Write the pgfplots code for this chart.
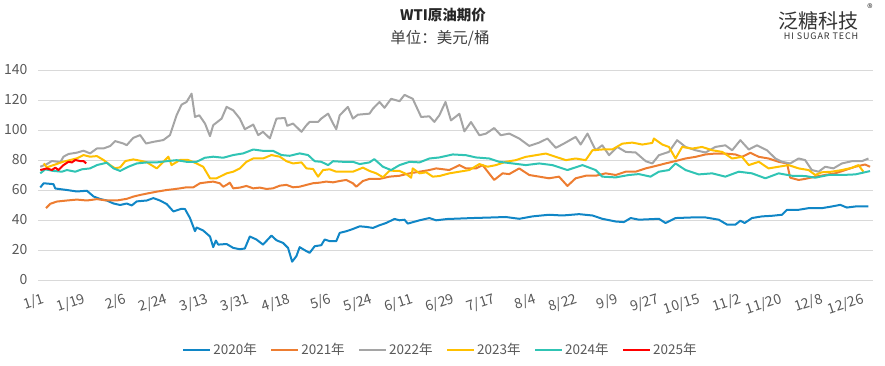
\documentclass[border=0pt]{standalone}
\usepackage{fontspec}
\setmainfont{Noto Sans CJK SC}
\usepackage{pgfplots}
\pgfplotsset{compat=1.18}
\definecolor{cA}{RGB}{16,134,198}
\definecolor{cB}{RGB}{237,125,49}
\definecolor{cC}{RGB}{165,165,165}
\definecolor{cD}{RGB}{255,192,0}
\definecolor{cE}{RGB}{48,196,180}
\definecolor{cF}{RGB}{255,0,0}
\definecolor{gridc}{RGB}{217,217,217}
\definecolor{labc}{RGB}{89,89,89}
\begin{document}
\begin{tikzpicture}[x=1pt,y=1pt]
\path[use as bounding box] (0,0) rectangle (885,366);
\node[font=\fontsize{14.5}{14.5}\selectfont\bfseries, text=black!85] at (443,351) {WTI原油期价};
\node[font=\fontsize{15.5}{15.5}\selectfont, text=black!75] at (440,328) {单位：美元/桶};
\node[font=\fontsize{20}{20}\selectfont, text=black!80] at (818,345) {泛糖科技};
\node[font=\fontsize{9}{9}\selectfont\addfontfeature{LetterSpace=10}, text=black!80] at (821,330) {HI SUGAR TECH};
\node[font=\fontsize{11}{11}\selectfont, text=black!80] at (870,358) {®};
\begin{axis}[at={(38pt,86pt)}, anchor=south west, scale only axis,
  width=835pt, height=210pt,
  xmin=-1, xmax=366, ymin=0, ymax=140,
  ytick={0,20,...,140},
  xtick={0,18,...,360},
  xticklabels={1/1,1/19,2/6,2/24,3/13,3/31,4/18,5/6,5/24,6/11,6/29,7/17,8/4,8/22,9/9,9/27,10/15,11/2,11/20,12/8,12/26},
  axis line style={draw=none}, tick style={draw=none}, major tick length=0pt,
  ymajorgrids, grid style={color=gridc, line width=0.9pt},
  tick label style={font=\fontsize{14}{14}\selectfont, text=labc},
  /pgf/number format/assume math mode=true,
  yticklabel style={xshift=-7pt},
  xticklabel style={rotate=18, anchor=north east, yshift=-11pt, xshift=-1pt, inner sep=1pt},
  every axis plot/.append style={line width=2pt, line join=round, no markers},
  legend style={at={(0.482,-0.333)}, anchor=center, legend columns=6, draw=none, fill=none,
    font=\fontsize{13.5}{13.5}\selectfont, text=labc,
    /tikz/every even column/.append style={column sep=11.5pt}},
  legend image code/.code={\draw[#1,line width=2pt] (0pt,0pt) -- (27pt,0pt);},
]
\addplot[cA] coordinates {(0,61.7)(1.5,64.5)(5.8,63.9)(6.6,61)(11.7,60)(16.1,59)(20.5,59.5)(23.4,55.7)(26.3,54)(29.2,53)(32.2,51)(35.1,50)(38,51)(40.2,49.7)(42.4,52.4)(46.8,53)(49.7,54.6)(52.6,53)(55.6,50.6)(58.5,45.7)(62.1,47.5)(63.6,47.3)(65.8,41.3)(68,32.5)(68.7,35)(71.6,33)(74.6,29)(76,21.9)(77.2,26.3)(78.2,23.6)(81.9,24)(84.8,21.4)(87.7,20.5)(89.9,21)(92.1,29)(95,27)(97.9,23.6)(101.6,29.6)(103.8,26.5)(106.7,24.7)(108.9,21.4)(110.7,12.2)(112.6,16)(114,21.9)(117,19.2)(118.4,18.1)(120.6,22.5)(123.5,23.2)(125,27)(127.2,25.9)(130.1,25.9)(131.6,31.4)(134.5,32.5)(137.4,34)(140.4,35.8)(143.3,35.4)(146.2,34.7)(149.1,36.5)(152,38)(155.7,40.7)(157.9,39.8)(160.1,40.2)(161.5,37.6)(166.7,39.8)(171,41.3)(174,39.8)(179.1,40.7)(181.3,40.8)(190,41.3)(198.8,41.7)(204.6,42)(210.5,40.8)(216.3,42.4)(223.6,43.5)(229.5,43)(236.8,43.9)(242.7,43)(247,40.8)(252.9,39)(256.5,38.6)(259.5,41.3)(263.1,40.2)(269,40.6)(271.9,40.8)(274.8,38)(279.2,41.3)(286.5,41.7)(292.4,41.7)(298.2,40.2)(301.9,36.9)(305.5,36.9)(307.7,39.5)(309.6,38)(312.8,41.3)(317.2,42.4)(321.6,42.8)(326,43.5)(328.2,46.8)(333.3,46.8)(337.7,47.9)(343.5,47.9)(347.9,49)(351.6,50.1)(354.5,48.3)(358.2,49)(364,49)};
\addlegendentry{2020年}
\addplot[cB] coordinates {(2.5,47.9)(4.4,50.8)(7.3,52.3)(11.7,53)(16.1,53.6)(20.5,53)(24.9,53.9)(29.2,53)(33.6,53)(38,54.1)(40.9,55.6)(43.9,56.7)(47.5,57.8)(51.2,58.9)(55.6,60)(58.5,60.5)(61.4,61.1)(64.3,61.8)(67.3,61.8)(70.2,64.5)(73.1,65.1)(76,65.6)(78.9,64.5)(80.4,62.2)(81.9,63.4)(83.3,64.9)(84.8,61.1)(87.7,61.6)(90.6,62.7)(93.6,61.1)(96.5,61.6)(99.4,60.7)(102.3,61.1)(105.3,62.9)(108.2,63.4)(111.1,61.8)(114,62.2)(117,63.4)(119.9,64.5)(122.8,64.9)(125.7,65.6)(128.7,65.1)(131.6,66)(134.5,66.7)(137.4,64.5)(138.9,62.2)(141.8,66)(144.7,67.4)(149.1,67.4)(153.5,68.9)(157.9,69.5)(162.3,71.1)(166.7,72.2)(171,73.3)(174,74.4)(179.8,73.3)(184.2,76.6)(187.1,74.4)(191.5,74.4)(194.4,76.6)(199.5,66.7)(203.2,71.1)(206.1,70.6)(210.5,74.4)(214.9,70)(219.3,68.9)(223.6,67.8)(228,68.9)(231.7,62.7)(235.3,67.8)(239.7,69.5)(244.1,69.5)(248.5,71.1)(252.9,70)(257.3,72.2)(261.7,72.2)(266.1,74.4)(270.4,76)(274.8,77.7)(279.2,79.3)(283.6,81)(288,82.1)(292.4,83.7)(296.7,84.3)(301.1,84.3)(305.5,83.7)(308.4,82.1)(312.1,84.8)(315.8,82.1)(320.1,81)(324.5,78.8)(328.2,77.7)(329.6,68.2)(333.3,66.7)(336.2,67.4)(340.6,68.9)(345,70)(349.4,71.1)(353.8,73.3)(358.2,75.5)(362.5,77)(364.7,75.5)};
\addlegendentry{2021年}
\addplot[cC] coordinates {(0,75.5)(2.9,77.3)(5.1,79.3)(7.3,78.9)(8.8,78.4)(10.2,82.2)(12.4,84)(16.1,84.9)(19,86.2)(21.9,84.4)(24.9,87.7)(27.8,87.7)(30.7,89.3)(32.9,92.6)(36.5,91)(38,89.9)(40.9,94.8)(43.9,96.6)(46.5,91)(49.7,92.1)(54.1,93.3)(57,96.6)(59.9,109.8)(62.1,116.9)(64.3,118.7)(66.5,124.2)(68,108.7)(69.9,109.8)(72.4,104.3)(74.6,95.9)(76,103.2)(79.7,107.6)(81.9,115.4)(84.8,113.1)(87.7,107.6)(89.9,100.5)(93.6,103.6)(95.8,96.6)(97.9,98.8)(100.9,94.4)(103.8,107.6)(107.5,108)(108.5,102.8)(111.1,104.3)(114.8,98.8)(117,103.2)(118.4,105.4)(122.1,105.4)(123.5,107.6)(126.5,110.9)(128.7,104.3)(130.1,100.5)(131.6,109.8)(135.2,115.4)(137.4,107.6)(139.6,110.2)(144.7,110.9)(146.2,114.2)(149.1,118.7)(151.3,114.8)(154.2,120.8)(157.9,119.2)(160.1,123.4)(163.7,120.8)(167.4,108.7)(171,109.1)(173.2,105.4)(175.4,109.8)(178.1,118.7)(180.5,106.4)(184.2,110.8)(186.4,99.1)(189.3,105.3)(193,96.5)(195.9,97.6)(199.5,101.3)(202.4,96.5)(206.1,97.6)(210.5,94.3)(214.9,89.4)(219.3,91.6)(222.9,94.3)(226.6,88.1)(230.2,91)(235.3,95.4)(237.5,90.3)(240.5,97.6)(244.1,86.5)(247,89.8)(250,83.2)(253.6,88.7)(257.3,85.4)(261.7,85)(266.1,79.2)(269,77.7)(271.9,83.2)(276.3,85.4)(279.9,93.2)(283.6,88.7)(288,86.5)(292.4,85)(296.7,88.7)(301.1,89.8)(304.1,86.5)(307.7,93.2)(311.4,87)(315,89.8)(319.4,86.5)(323.1,81)(326,78.8)(329.6,77.7)(333.3,81)(336.2,79.9)(339.1,73.3)(342.1,72.2)(345,75.5)(348.6,74.4)(352.3,77.7)(356.7,79.2)(361.1,79.2)(364,81)};
\addlegendentry{2022年}
\addplot[cD] coordinates {(1.5,77.7)(2.9,75.1)(5.8,76.6)(10.2,78.9)(13.2,80)(16.1,81.1)(19,83.3)(21.9,82.2)(24.9,82.6)(27.8,80)(30.7,76.6)(32.9,74.5)(35.1,75.1)(37.4,79.3)(40.9,80.4)(44.6,79.3)(46.8,78.5)(51.2,74.4)(53.4,77.7)(56.3,82.2)(57.7,76.6)(61.4,80)(65,80)(68.7,77.7)(71.6,75.5)(74.6,67.8)(77.5,67.8)(81.9,71.1)(84.8,72.2)(87.7,74.4)(90.6,78.8)(93.6,81)(97.9,81)(101.6,83.3)(105.3,82.2)(108.2,79.2)(111.1,77.7)(114.8,78.4)(117,74.4)(119.9,74)(122.1,68.9)(124.3,73.3)(127.2,73.8)(130.1,72.2)(134.5,72.2)(137.4,72.2)(141.8,74.9)(144.7,72.7)(147.7,71.1)(150.6,68.5)(153.5,72.9)(157.9,72.7)(160.8,70.7)(163,68.2)(163.7,74.4)(166.7,71.1)(169.6,71.8)(172.5,68.9)(175.4,69.3)(179.8,71.1)(184.2,72.2)(188.6,73.3)(193,77.3)(196.6,75.5)(200.3,76.6)(204.6,78.8)(209,79.9)(213.4,82.1)(217.8,83.2)(222.2,84.3)(226.6,82.1)(231,79.9)(235.3,81)(239.7,79.9)(242.7,86.5)(247,87)(251.4,87)(255.8,90.9)(260.2,91.6)(264.6,90.3)(269,91.4)(269.7,94.3)(273.4,90.3)(276.3,88.7)(279.2,81)(282.1,88.7)(286.5,87.6)(290.9,88.7)(295.3,86.5)(299.7,85.4)(304.1,81)(308.4,82.1)(311.4,76.6)(315.8,78.8)(320.1,74.4)(324.5,75.5)(328.9,76.6)(333.3,74.4)(337.7,73.3)(340.6,70)(343.5,71.8)(347.9,72.2)(352.3,73.3)(356.7,74.8)(359.6,76.6)(361.8,72.2)};
\addlegendentry{2023年}
\addplot[cE] coordinates {(0,71.1)(2.2,73.8)(5.8,72.7)(9.5,72.2)(11.7,73.3)(15.4,72.2)(18.3,73.8)(21.9,74.4)(24.9,76.6)(29.2,78.2)(32.2,74.4)(35.1,72.7)(38.7,75.5)(42.4,77.7)(46.8,78.4)(51.2,78.4)(55.6,79.2)(59.9,79.9)(64.3,78.8)(68.7,78.8)(72.4,81.5)(76,82.2)(80.4,81.5)(84.8,83.3)(89.2,84.4)(93.6,87)(97.9,86.1)(102.3,86.1)(106,83.3)(109.6,82.8)(114,84.4)(117.7,83.3)(120.6,79.2)(123.5,78.8)(126.5,76.6)(128.7,79.2)(133,78.8)(137.4,78.8)(140.4,77.3)(144.7,78.4)(146.8,80.6)(150.6,75.5)(154.2,73.3)(157.9,76.6)(162.3,78.8)(166.7,78.4)(171,81)(175.4,81.7)(181.3,83.7)(187.1,83.2)(191.5,81.7)(197.3,81)(201.7,78.8)(207.6,77.7)(213.4,76.6)(219.3,77.7)(225.1,76.6)(231.7,73.3)(238.3,76.6)(244.1,73.3)(247,68.9)(252.9,68.4)(258.7,70)(263.1,70.6)(268.2,68.9)(271.9,72.2)(276.3,73.3)(279.2,77.7)(283.6,73.3)(289.4,70.4)(295.3,71.1)(301.1,68.9)(307,72.2)(312.8,71.1)(318.7,67.8)(324.5,71.1)(330.4,69.5)(336.2,69.3)(340.6,68.2)(346.4,70)(352.3,70)(358.2,70.4)(364.7,72.6)};
\addlegendentry{2024年}
\addplot[cF] coordinates {(0,73.3)(2.9,74.4)(5.1,73.3)(6.6,74.9)(8,73.3)(10.2,76.6)(12.4,78.8)(13.9,78.4)(15.4,80)(17.5,79.3)(19,79.3)(20.2,77.7)};
\addlegendentry{2025年}
\end{axis}
\end{tikzpicture}
\end{document}
